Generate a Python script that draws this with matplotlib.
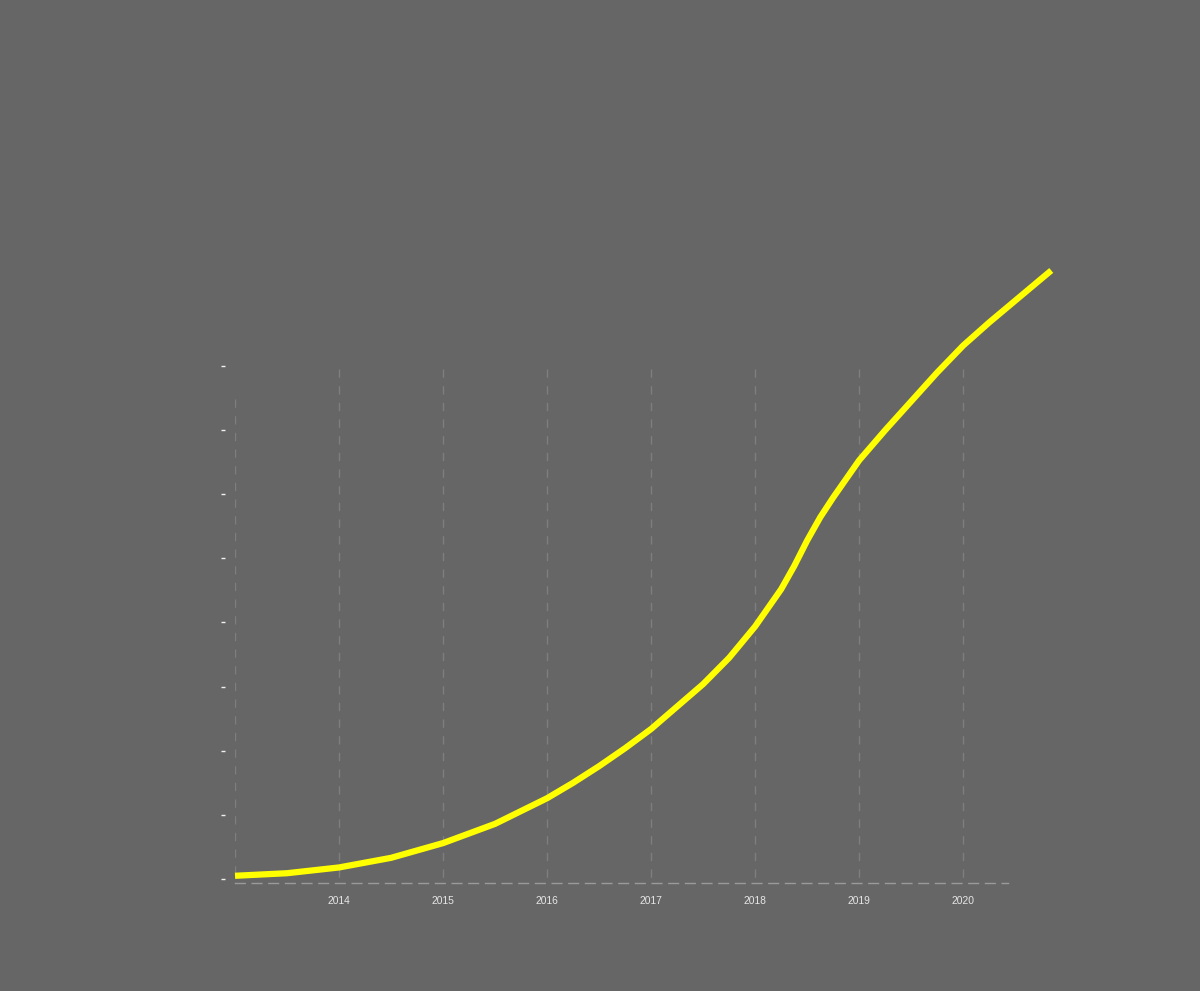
import matplotlib
matplotlib.use('Agg')
import matplotlib.pyplot as plt

# Curve (year, value in y-tick units)
years = [2013.0, 2013.5, 2014.0, 2014.5, 2015.0, 2015.5, 2016.0, 2016.25,
         2016.5, 2016.75, 2017.0, 2017.25, 2017.5, 2017.75, 2018.0, 2018.25,
         2018.375, 2018.5, 2018.625, 2018.75, 2019.0, 2019.25, 2019.5,
         2019.75, 2020.0, 2020.25, 2020.5, 2020.75, 2020.846]
values = [0.05, 0.09, 0.18, 0.33, 0.56, 0.86, 1.26, 1.5,
          1.76, 2.04, 2.34, 2.69, 3.04, 3.45, 3.94, 4.52,
          4.88, 5.28, 5.64, 5.95, 6.53, 7.0, 7.45,
          7.9, 8.32, 8.68, 9.02, 9.36, 9.49]
tick_years = [2014, 2015, 2016, 2017, 2018, 2019, 2020]
y_ticks = [0, 1, 2, 3, 4, 5, 6, 7, 8]

bg = '#666666'
fig = plt.figure(figsize=(12, 9.91), dpi=100, facecolor=bg)
ax = fig.add_axes([235 / 1200, 108 / 991, 773 / 1200, 517 / 991])
ax.set_facecolor(bg)

ax.set_xlim(2013, 2020.43)
ax.set_ylim(-0.0625, 8.0)

# Dashed vertical gridlines, drawn top-down so the dash pattern starts at the top
grid_top = (7.95 + 0.0625) / 8.0625
for yr in tick_years:
    ax.axvline(yr, ymin=grid_top, ymax=0, color='#7e7e7e', lw=1,
               ls=(0, (6, 6)), zorder=1)
ax.axvline(2013, ymin=(7.48 + 0.0625) / 8.0625, ymax=0, color='#7e7e7e',
           lw=1, ls=(0, (6, 6)), zorder=1)

# Dashed bottom axis
for s in ['top', 'right', 'left']:
    ax.spines[s].set_visible(False)
ax.spines['bottom'].set_color('#9a9a9a')
ax.spines['bottom'].set_linestyle((0, (7, 5)))
ax.spines['bottom'].set_linewidth(1)

ax.set_xticks(tick_years)
ax.set_xticklabels([str(y) for y in tick_years], fontfamily='Liberation Sans')
ax.tick_params(axis='x', length=0, pad=9, labelsize=7.4, labelcolor='#e6e6e6')

ax.spines['left'].set_position(('outward', 7))
ax.set_yticks(y_ticks)
ax.set_yticklabels([])
ax.tick_params(axis='y', length=3, width=1, color='#f0f0f0', direction='out')

ax.plot(years, values, color='#ffff00', lw=4.5, solid_capstyle='butt',
        solid_joinstyle='round', clip_on=False, zorder=3)

fig.savefig('out.png', dpi=100, facecolor=bg)
